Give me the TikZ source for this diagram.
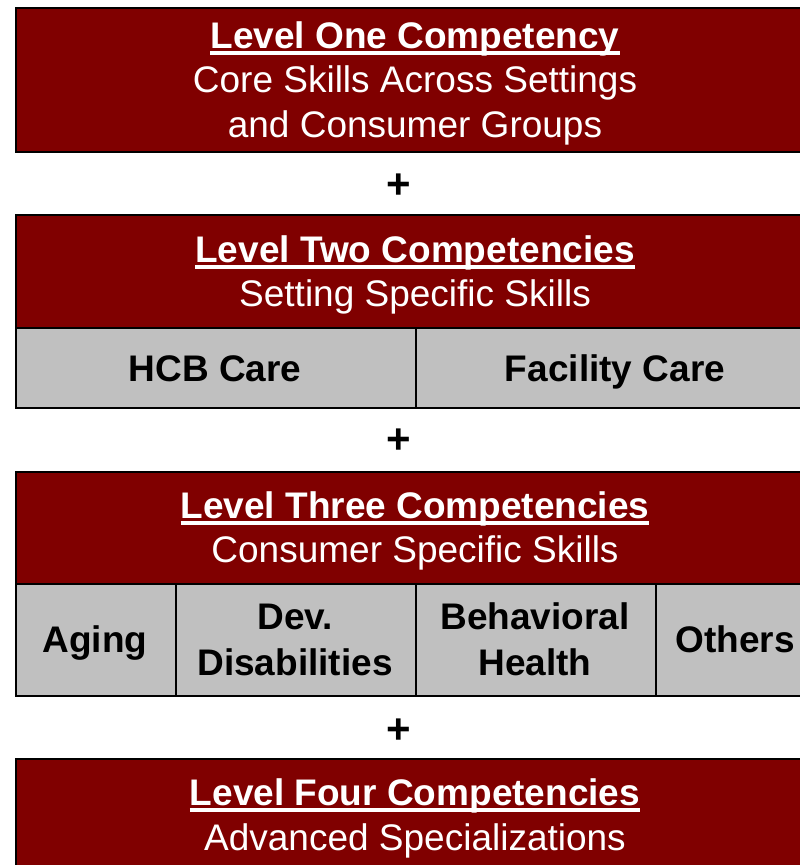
\documentclass[tikz,border=0pt]{standalone}
\usepackage{fontspec}
\setmainfont{Liberation Sans}
\definecolor{maroon}{HTML}{800000}
\definecolor{cellgray}{HTML}{C0C0C0}
\newcommand{\myul}[1]{{\setbox0\hbox{#1}\rlap{\vrule height -3pt depth 6.5pt width \wd0}\box0}}
\begin{document}
\begin{tikzpicture}[x=1pt,y=-1pt,
  redbox/.style={draw=black,line width=2.2pt,fill=maroon,anchor=north west,inner sep=0pt},
  graybox/.style={draw=black,line width=2.2pt,fill=cellgray,anchor=north west,inner sep=0pt},
  wtext/.style={text=white,font=\fontsize{37}{45}\selectfont,anchor=base,inner sep=0pt},
  btext/.style={text=black,font=\fontsize{37}{45}\selectfont\bfseries,anchor=base,inner sep=0pt,align=center},
  plus/.style={text=black,font=\fontsize{42}{45}\selectfont\bfseries,inner sep=0pt}]
\useasboundingbox (0,0) rectangle (800,865);
% Level one
\node[redbox,minimum width=800pt,minimum height=144pt] (b1) at (15,7) {};
\node[wtext] (t1a) at (415,48) {\bfseries\myul{Level One Competency}};
\node[wtext] (t1b) at (415,92) {Core Skills Across Settings};
\node[wtext] (t1c) at (415,137) {and Consumer Groups};
\node[plus] (p1) at (399,186) {+};
% Level two
\node[redbox,minimum width=800pt,minimum height=113pt] (b2) at (15,214) {};
\node[wtext] (t2a) at (415,262) {\bfseries\myul{Level Two Competencies}};
\node[wtext] (t2b) at (415,306) {Setting Specific Skills};
\node[graybox,minimum width=400pt,minimum height=80pt] (g21) at (15,327) {};
\node[graybox,minimum width=400pt,minimum height=80pt] (g22) at (415,327) {};
\node[btext] (c21) at (215,381) {HCB Care};
\node[btext] (c22) at (615,381) {Facility Care};
\node[plus] (p2) at (399,441) {+};
% Level three
\node[redbox,minimum width=800pt,minimum height=112pt] (b3) at (15,471) {};
\node[wtext] (t3a) at (415,518) {\bfseries\myul{Level Three Competencies}};
\node[wtext] (t3b) at (415,562) {Consumer Specific Skills};
\node[graybox,minimum width=160pt,minimum height=112pt] (g31) at (15,583) {};
\node[graybox,minimum width=240pt,minimum height=112pt] (g32) at (175,583) {};
\node[graybox,minimum width=240pt,minimum height=112pt] (g33) at (415,583) {};
\node[graybox,minimum width=160pt,minimum height=112pt] (g34) at (655,583) {};
\node[btext] (c31) at (95,652) {Aging};
\node[btext] (c32a) at (295,629) {Dev.};
\node[btext] (c32b) at (295,675) {Disabilities};
\node[btext] (c33a) at (535,629) {Behavioral};
\node[btext] (c33b) at (535,675) {Health};
\node[btext] (c34) at (735,652) {Others};
\node[plus] (p3) at (399,731) {+};
% Level four
\node[redbox,minimum width=800pt,minimum height=150pt] (b4) at (15,758) {};
\node[wtext] (t4a) at (415,805) {\bfseries\myul{Level Four Competencies}};
\node[wtext] (t4b) at (415,850) {Advanced Specializations};
\end{tikzpicture}
\end{document}
